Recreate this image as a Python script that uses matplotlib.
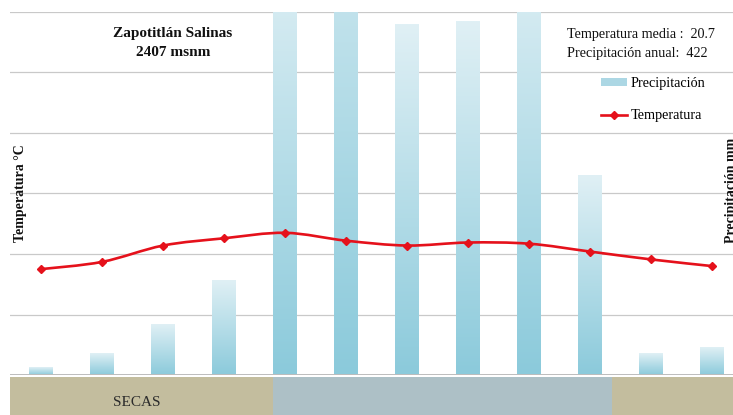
import numpy as np
import matplotlib
matplotlib.use('Agg')
import matplotlib.pyplot as plt
from matplotlib.path import Path
from matplotlib.patches import PathPatch, Patch
from matplotlib.lines import Line2D
from matplotlib.colors import LinearSegmentedColormap

plt.rcParams['font.family'] = ['Liberation Serif', 'DejaVu Serif']

# ------------------------------------------------------------
# Monthly climate data (Jan..Dec)
# ------------------------------------------------------------
month_idx = np.arange(12)
precip = [1.3, 3.6, 8.4, 15.7, 70.0, 95.0, 58.0, 58.5, 70.5, 32.9, 3.6, 4.5]   # mm
temp = [17.5, 18.7, 21.4, 22.6, 23.5, 22.2, 21.4, 21.9, 21.7, 20.4, 19.1, 18.0]  # °C

station = "Zapotitlán Salinas"
altitude = "2407 msnm"
temp_mean = 20.7
precip_annual = 422

# season strip below the chart (edges in month units)
season_edges = [-0.51, 3.80, 9.36, 11.40]
season_labels = ["SECAS", "", ""]
season_colors = ["#c3bd9e", "#adc0c6", "#c3bd9e"]

RED = "#e5111b"
W, H = 733, 415

fig = plt.figure(figsize=(W / 100, H / 100), dpi=100)
ax = fig.add_axes([10 / W, 40 / H, 723 / W, 363 / H])
ax_t = ax.twinx()

# --- precipitation bars with vertical gradient ---
bars = ax.bar(month_idx, precip, width=0.39, edgecolor='none', zorder=2)
cmap = LinearSegmentedColormap.from_list("bar_grad", ["#8bcadb", "#e0f0f5"])
grad = np.linspace(0, 1, 256).reshape(-1, 1)
for b in bars:
    x0, y0, bw, bh = b.get_x(), b.get_y(), b.get_width(), b.get_height()
    im = ax.imshow(grad, cmap=cmap, aspect='auto', origin='lower',
                   extent=[x0, x0 + bw, y0, y0 + bh], zorder=2)
    im.set_clip_path(b)
    im.set_clip_box(ax.bbox)
    b.set_facecolor('none')

ax.set_xlim(-0.51, 11.34)
ax.set_ylim(0, 60)
ax.set_yticks(np.arange(0, 61, 10))
ax.yaxis.grid(True, color='#c9c9c9', lw=0.9, zorder=0)
ax.set_axisbelow(True)
ax.axhline(0, color='#bdbdbd', lw=1.4, zorder=3)
ax.tick_params(left=False, bottom=False, labelleft=False, labelbottom=False)
for s in ax.spines.values():
    s.set_visible(False)

# --- temperature: smoothed curve through the monthly points ---
pts = np.column_stack([month_idx, temp]).astype(float)
verts = [tuple(pts[0])]
codes = [Path.MOVETO]
n = len(pts)
for i in range(n - 1):
    p_prev = pts[i - 1] if i > 0 else pts[i]
    p_next2 = pts[i + 2] if i + 2 < n else pts[i + 1]
    c1 = pts[i] + (pts[i + 1] - p_prev) / 6.0
    c2 = pts[i + 1] - (p_next2 - pts[i]) / 6.0
    verts += [tuple(c1), tuple(c2), tuple(pts[i + 1])]
    codes += [Path.CURVE4] * 3
ax_t.add_patch(PathPatch(Path(verts, codes), facecolor='none', edgecolor=RED,
                         lw=1.9, capstyle='round', zorder=4))
ax_t.plot(month_idx, temp, linestyle='none', marker='D', markersize=4.2,
          color=RED, zorder=5)
ax_t.set_ylim(0, 60)
ax_t.tick_params(right=False, labelright=False)
for s in ax_t.spines.values():
    s.set_visible(False)

# --- season strip ---
ax_b = fig.add_axes([10 / W, 0, 723 / W, 38 / H])
for lab, c, a, b in zip(season_labels, season_colors, season_edges[:-1], season_edges[1:]):
    ax_b.axvspan(a, b, color=c, lw=0)
    if lab:
        ax_b.text((a + b) / 2 - 0.08, 0.34, lab, ha='center', va='center',
                  fontsize=11, color='#2b2b2b')
ax_b.set_xlim(ax.get_xlim())
ax_b.set_ylim(0, 1)
ax_b.axis('off')

# --- texts ---
fig.text(173 / W, 1 - 43 / H, f"{station}\n{altitude}", ha='center', va='center',
         fontsize=11, fontweight='bold', linespacing=1.55, color='#111111')
fig.text(567 / W, 1 - 44 / H,
         f"Temperatura media :  {temp_mean}\nPrecipitación anual:  {precip_annual}",
         ha='left', va='center', fontsize=10.2, linespacing=1.68, color='#111111')
fig.text(14 / W, 1 - 193 / H, "Temperatura °C", rotation=90, ha='left', va='center',
         fontsize=10, fontweight='bold', color='#111111')
fig.text(725 / W, 1 - 190 / H, "Precipitación mm", rotation=90, ha='left', va='center',
         fontsize=10, fontweight='bold', color='#111111')

handles = [Patch(facecolor='#acd7e4', edgecolor='none'),
           Line2D([], [], color=RED, lw=1.9, marker='D', markersize=4.2)]
fig.legend(handles, ["Precipitación", "Temperatura"], loc='upper left',
           bbox_to_anchor=(588 / W, 1 - 64 / H), frameon=False, fontsize=10.3,
           handlelength=1.8, handleheight=0.5, handletextpad=0.25, labelspacing=1.35)

fig.savefig("out.png", dpi=100)
